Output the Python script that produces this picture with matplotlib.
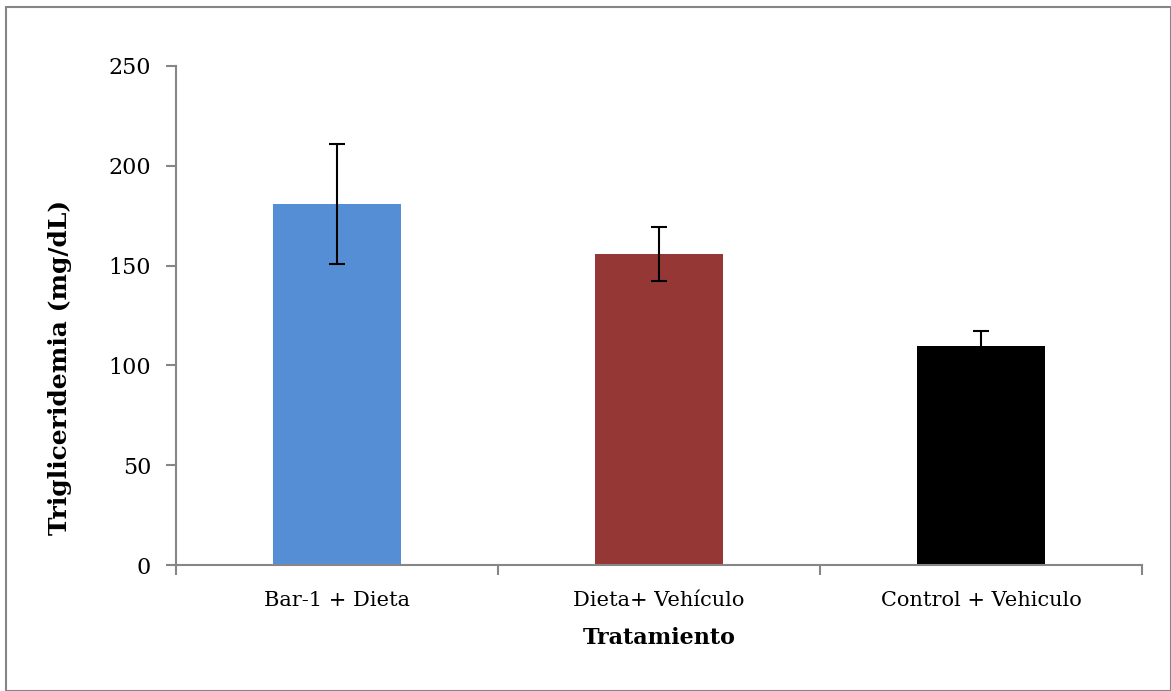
import matplotlib
matplotlib.use("Agg")
import matplotlib.pyplot as plt
from matplotlib.patches import Rectangle

categories = ["Bar-1 + Dieta", "Dieta+ Vehículo", "Control + Vehiculo"]
values = [181, 156, 109.7]
errors = [30, 13.5, 7.7]
colors = ["#558ED5", "#953735", "#000000"]

plt.rcParams['font.family'] = ['DejaVu Serif']

fig = plt.figure(figsize=(11.71, 6.91), dpi=100)
ax = fig.add_axes([0.1503, 0.1823, 0.825, 0.7222])

x = list(range(len(categories)))
ax.bar(x, values, width=0.4, color=colors, zorder=2)
ax.errorbar(x, values, yerr=errors, fmt='none', ecolor='black',
            elinewidth=1.5, capsize=6, capthick=1.5, zorder=3)

ax.set_xlim(-0.5, 2.5)
ax.set_ylim(0, 250)
ax.set_yticks([0, 50, 100, 150, 200, 250])
ax.set_xticks([-0.5, 0.5, 1.5, 2.5])
ax.set_xticklabels([])
ax.set_xticks(x, minor=True)
ax.set_xticklabels(categories, minor=True)
ax.tick_params(axis='x', which='minor', length=0, pad=19, labelsize=15)
ax.tick_params(axis='x', which='major', length=7, color='#868686', width=1.5)
ax.tick_params(axis='y', length=7, color='#868686', width=1.5, labelsize=16, pad=11)

for s in ['top', 'right']:
    ax.spines[s].set_visible(False)
for s in ['left', 'bottom']:
    ax.spines[s].set_color('#868686')
    ax.spines[s].set_linewidth(1.5)

ax.set_xlabel("Tratamiento", fontsize=16, fontweight='bold', labelpad=12)
ax.set_ylabel("Trigliceridemia (mg/dL)", fontsize=18, fontweight='bold')
ax.yaxis.set_label_coords(-0.1077, 0.395)

fig.patches.append(Rectangle((0.005, 0.0), 0.995, 0.99, transform=fig.transFigure,
                             fill=False, edgecolor='#868686', linewidth=1.5))

fig.savefig("out.png", dpi=100)
